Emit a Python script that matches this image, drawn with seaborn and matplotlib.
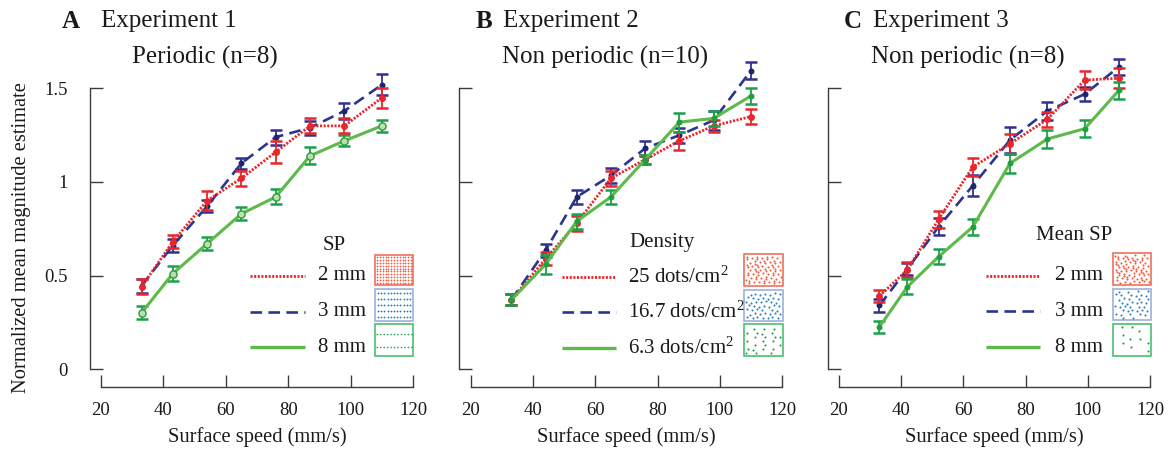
import numpy as np
import pandas as pd
import matplotlib
matplotlib.use("Agg")
import matplotlib.pyplot as plt
import seaborn as sns
from matplotlib.patches import Rectangle

# ---------------- data ----------------
speed_A = [33, 43, 54, 65, 76, 87, 98, 110]
A_2mm = [0.44, 0.68, 0.90, 1.02, 1.16, 1.30, 1.30, 1.45]
A_2mm_err = [0.04, 0.035, 0.05, 0.04, 0.057, 0.04, 0.04, 0.053]
A_3mm = [0.445, 0.66, 0.87, 1.10, 1.24, 1.29, 1.38, 1.52]
A_3mm_err = [0.037, 0.035, 0.033, 0.03, 0.04, 0.036, 0.042, 0.055]
A_8mm = [0.30, 0.51, 0.67, 0.83, 0.92, 1.14, 1.22, 1.30]
A_8mm_err = [0.035, 0.04, 0.035, 0.035, 0.04, 0.045, 0.03, 0.03]

speed_B = [33, 44, 54, 65, 76, 87, 98, 110]
B_25 = [0.37, 0.59, 0.78, 1.02, 1.12, 1.22, 1.30, 1.35]
B_25_err = [0.03, 0.036, 0.04, 0.04, 0.025, 0.05, 0.03, 0.04]
B_167 = [0.37, 0.635, 0.92, 1.035, 1.18, 1.25, 1.33, 1.595]
B_167_err = [0.03, 0.036, 0.036, 0.04, 0.04, 0.04, 0.05, 0.045]
B_63 = [0.37, 0.56, 0.79, 0.92, 1.12, 1.32, 1.34, 1.46]
B_63_err = [0.03, 0.05, 0.04, 0.036, 0.025, 0.05, 0.04, 0.045]

speed_C = [33, 42, 52, 63, 75, 87, 99, 110]
C_2mm = [0.39, 0.53, 0.80, 1.08, 1.205, 1.335, 1.545, 1.555]
C_2mm_err = [0.033, 0.04, 0.045, 0.05, 0.054, 0.04, 0.05, 0.055]
C_3mm = [0.34, 0.535, 0.76, 0.98, 1.225, 1.38, 1.47, 1.615]
C_3mm_err = [0.036, 0.03, 0.045, 0.056, 0.07, 0.05, 0.037, 0.044]
C_8mm = [0.225, 0.44, 0.60, 0.76, 1.10, 1.23, 1.285, 1.49]
C_8mm_err = [0.03, 0.04, 0.04, 0.042, 0.05, 0.05, 0.045, 0.045]

x_ticks = [20, 40, 60, 80, 100, 120]
y_ticks = [0, 0.5, 1, 1.5]
y_tick_labels = ["0", "0.5", "1", "1.5"]

panel_letters = ["A", "B", "C"]
panel_titles = ["Experiment 1", "Experiment 2", "Experiment 3"]
panel_subtitles = ["Periodic (n=8)", "Non periodic (n=10)", "Non periodic (n=8)"]
legend_titles = ["SP", "Density", "Mean SP"]
legend_labels = [["2 mm", "3 mm", "8 mm"],
                 ["25 dots/cm$^{2}$", "16.7 dots/cm$^{2}$", "6.3 dots/cm$^{2}$"],
                 ["2 mm", "3 mm", "8 mm"]]

# ---------------- style ----------------
sns.set_theme(style="ticks")
plt.rcParams['font.family'] = ['Liberation Serif', 'DejaVu Serif']
plt.rcParams['mathtext.fontset'] = 'custom'
plt.rcParams['mathtext.rm'] = 'Liberation Serif'
plt.rcParams['mathtext.it'] = 'Liberation Serif:italic'
plt.rcParams['mathtext.bf'] = 'Liberation Serif:bold'

RED = '#e8262b'
BLUE = '#2b3590'
BLUE_ERR = '#303090'
GREEN = '#5cb94a'
GREEN_ERR = '#19a04a'
AX_COL = '#3c3c3c'

W, H = 1168, 453
fig = plt.figure(figsize=(W / 100, H / 100), dpi=100)

# layout (pixels): left spine, pixel of x=20, pixel of x=120, right edge
layout = [(90, 101, 413, 430), (459, 471, 782, 800), (828, 839, 1150, 1162)]
bottom_px, top_px = 387, 50
y0_px, per_unit = 369, 187.0

series = [
    (speed_A, [(A_3mm, A_3mm_err), (A_2mm, A_2mm_err), (A_8mm, A_8mm_err)]),
    (speed_B, [(B_167, B_167_err), (B_25, B_25_err), (B_63, B_63_err)]),
    (speed_C, [(C_3mm, C_3mm_err), (C_2mm, C_2mm_err), (C_8mm, C_8mm_err)]),
]

red_ls = (0, (0.75, 0.55))
blue_ls = (0, (4.4, 2.4))

axes = []
for i, (lpx, p20, p120, rpx) in enumerate(layout):
    ppu = (p120 - p20) / 100.0
    xl0 = 20 - (p20 - lpx) / ppu
    xl1 = 120 + (rpx - p120) / ppu
    yl0 = -(bottom_px - y0_px) / per_unit
    yl1 = (y0_px - top_px) / per_unit
    ax = fig.add_axes([lpx / W, 1 - bottom_px / H, (rpx - lpx) / W, (bottom_px - top_px) / H])
    ax.set_xlim(xl0, xl1)
    ax.set_ylim(yl0, yl1)
    ax.patch.set_alpha(0)
    axes.append(ax)

    xs, sers = series[i]
    (b_y, b_e), (r_y, r_e), (g_y, g_e) = sers
    df = pd.DataFrame({"speed": xs, "blue": b_y, "red": r_y, "green": g_y})

    # error bars
    ax.errorbar(xs, b_y, yerr=b_e, fmt='none', ecolor=BLUE_ERR, elinewidth=1.3,
                capsize=4.5, capthick=1.8, zorder=3)
    ax.errorbar(xs, r_y, yerr=r_e, fmt='none', ecolor=RED, elinewidth=1.3,
                capsize=4.5, capthick=1.8, zorder=4)
    ax.errorbar(xs, g_y, yerr=g_e, fmt='none', ecolor=GREEN_ERR, elinewidth=1.3,
                capsize=4.5, capthick=1.8, zorder=5 if i else 2)

    sns.lineplot(data=df, x="speed", y="blue", ax=ax, color=BLUE, linewidth=1.9,
                 linestyle=blue_ls, marker='o', markersize=4.3, markeredgewidth=0,
                 markerfacecolor='#1d2470', zorder=3.5)
    sns.lineplot(data=df, x="speed", y="red", ax=ax, color=RED, linewidth=2.0,
                 linestyle=red_ls, marker='o', markersize=5, markeredgewidth=0,
                 markerfacecolor=RED, zorder=4.5)
    if i == 0:
        sns.lineplot(data=df, x="speed", y="green", ax=ax, color=GREEN, linewidth=2.2,
                     marker='o', markersize=5.2, markeredgewidth=1.0,
                     markeredgecolor='#2f9a3c', markerfacecolor='#b9e0b0', zorder=2.5)
    else:
        sns.lineplot(data=df, x="speed", y="green", ax=ax, color=GREEN, linewidth=2.2,
                     marker='o', markersize=4.3, markeredgewidth=0,
                     markerfacecolor='#1fa040', zorder=5.5)

    # axes styling
    for s in ['top', 'right']:
        ax.spines[s].set_visible(False)
    ax.spines['left'].set_bounds(0, 1.5)
    ax.spines['bottom'].set_bounds(20, 120)
    for s in ['left', 'bottom']:
        ax.spines[s].set_color(AX_COL)
        ax.spines[s].set_linewidth(1.0)
    ax.set_xticks(x_ticks)
    ax.set_yticks(y_ticks)
    ax.set_xticklabels([str(t) for t in x_ticks])
    if i == 0:
        ax.set_yticklabels(y_tick_labels)
    else:
        ax.set_yticklabels([])
    ax.tick_params(axis='both', direction='in', length=9, width=1.0, color=AX_COL,
                   labelsize=13.5, labelcolor='#1a1a1a')
    ax.tick_params(axis='y', pad=16)
    ax.tick_params(axis='x', pad=11)
    ax.set_xlabel("Surface speed (mm/s)", fontsize=14.8, color='#1a1a1a')
    ax.xaxis.set_label_coords((70 - xl0) / (xl1 - xl0), -(427 - bottom_px) / (bottom_px - top_px))
    ax.set_ylabel("")
    ax.grid(False)

# ---------------- overlay for titles and keys (pixel coordinates) ----------------
ov = fig.add_axes([0, 0, 1, 1], zorder=10)
ov.set_xlim(0, W)
ov.set_ylim(H, 0)
ov.axis('off')
ov.patch.set_alpha(0)

ov.text(22, 238, "Normalized mean magnitude estimate", rotation=90, ha='center',
        va='center', fontsize=14.8, color='#1a1a1a')

letter_x = [71, 484, 853]
title_x = [101, 503, 873]
sub_x = [205, 605, 968]
for i in range(3):
    ov.text(letter_x[i], 21, panel_letters[i], ha='center', va='center', fontsize=18,
            fontweight='bold', color='#1a1a1a')
    ov.text(title_x[i], 21, panel_titles[i], ha='left', va='center', fontsize=18, color='#1a1a1a')
    ov.text(sub_x[i], 57, panel_subtitles[i], ha='center', va='center', fontsize=18, color='#1a1a1a')

# key layout per panel
keys = [
    dict(title=(334, 245), ha='center', rows=[276, 312, 347], line=(250, 305), text=318,
         sw=(375, 413), swy=[(255, 285), (289, 321), (324, 356)]),
    dict(title=(662, 242), ha='center', rows=[277, 312, 348], line=(562, 616), text=628,
         sw=(744, 783), swy=[(254, 286), (290, 321), (324, 356)]),
    dict(title=(1074, 236), ha='center', rows=[276, 311, 347], line=(986, 1040), text=1055,
         sw=(1113, 1151), swy=[(253, 285), (289, 320), (324, 356)]),
]
line_styles = [(RED, red_ls, 2.0), (BLUE, blue_ls, 1.9), (GREEN, '-', 2.4)]
sw_edge = ['#f0705a', '#9cb0dc', '#4cc070']
sw_dot = ['#f05a3c', '#2a7fb8', '#1a9a45']


def kron(n, sx, sy):
    a1, a2 = 0.7548776662, 0.5698402910
    k = np.arange(1, n + 1)
    return (0.5 + a1 * k + sx) % 1, (0.5 + a2 * k + sy) % 1


dot_counts = [None, [70, 48, 24], [75, 40, 10]]

for i, kd in enumerate(keys):
    ov.text(kd['title'][0], kd['title'][1], legend_titles[i], ha=kd['ha'], va='center',
            fontsize=15, color='#1a1a1a')
    for j in range(3):
        c, ls, lw = line_styles[j]
        ov.plot(kd['line'], [kd['rows'][j]] * 2, color=c, linestyle=ls, linewidth=lw,
                solid_capstyle='butt')
        ov.text(kd['text'], kd['rows'][j], legend_labels[i][j], ha='left', va='center',
                fontsize=15, color='#1a1a1a')
        x0, x1 = kd['sw']
        y0, y1 = kd['swy'][j]
        ov.add_patch(Rectangle((x0, y0), x1 - x0, y1 - y0, facecolor='white',
                               edgecolor=sw_edge[j], linewidth=1.2))
        if i == 0:
            if j == 0:
                gx, gy = np.meshgrid(np.linspace(x0 + 2, x1 - 2, 13), np.linspace(y0 + 2, y1 - 2, 10))
                ov.scatter(gx.ravel(), gy.ravel(), s=1.6, color=sw_dot[j], linewidths=0)
            elif j == 1:
                gx, gy = np.meshgrid(np.linspace(x0 + 3, x1 - 3, 11), np.linspace(y0 + 4, y1 - 4, 5))
                ov.scatter(gx.ravel(), gy.ravel(), s=1.8, color=sw_dot[j], linewidths=0)
            else:
                for fy in (0.3, 0.72):
                    yy = y0 + fy * (y1 - y0)
                    ov.plot([x0 + 1, x1 - 1], [yy, yy], color=sw_dot[j], linewidth=1.0,
                            linestyle=(0, (1, 1.5)))
        else:
            n = dot_counts[i][j]
            u, v = kron(n, 0.1 * j, 0.2 * i)
            ov.scatter(x0 + 2 + u * (x1 - x0 - 4), y0 + 2 + v * (y1 - y0 - 4), s=2.2,
                       color=sw_dot[j], linewidths=0)

fig.savefig("out.png", dpi=100)
